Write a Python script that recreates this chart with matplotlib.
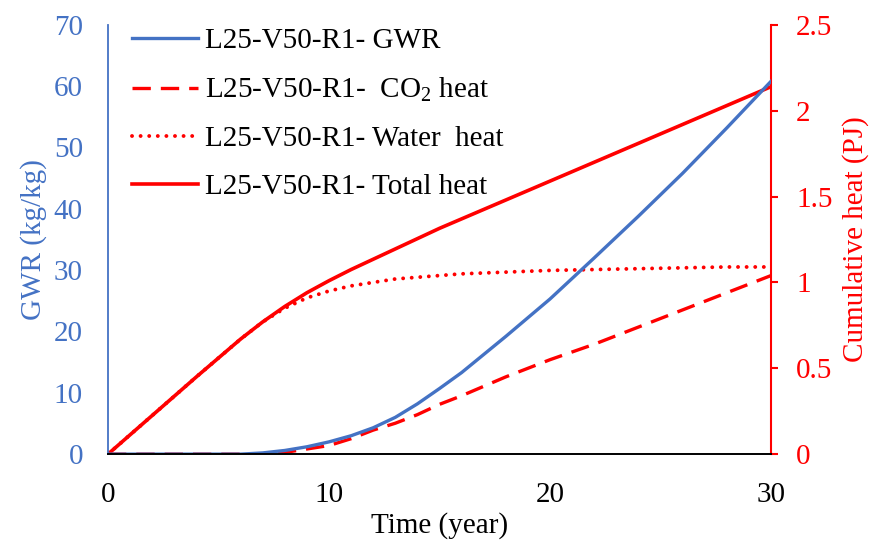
import matplotlib
matplotlib.use("Agg")
import matplotlib.pyplot as plt
from matplotlib.ticker import FuncFormatter

plt.rcParams['font.family'] = ['Liberation Serif', 'DejaVu Serif']
plt.rcParams['mathtext.fontset'] = 'custom'
plt.rcParams['mathtext.rm'] = 'Liberation Serif'
plt.rcParams['mathtext.it'] = 'Liberation Serif:italic'

years = [0, 2, 4, 6, 7, 8, 9, 10, 11, 12, 13, 14, 15, 16, 18, 20, 22, 24, 26, 28, 30]
gwr = [0, 0, 0, 0, 0.2, 0.6, 1.2, 2.0, 3.0, 4.3, 6.0, 8.2, 10.7, 13.3, 19.2, 25.3, 32.0, 38.8, 45.8, 53.2, 60.8]
co2_heat = [0, 0, 0, 0, 0, 0.01, 0.03, 0.05, 0.09, 0.14, 0.18, 0.23, 0.29, 0.34, 0.45, 0.55, 0.64, 0.74, 0.84, 0.94, 1.04]
water_heat = [0, 0.225, 0.45, 0.67, 0.77, 0.85, 0.91, 0.95, 0.98, 1.00, 1.02, 1.03, 1.04, 1.05, 1.06, 1.07, 1.075, 1.08, 1.085, 1.09, 1.09]
total_heat = [0, 0.225, 0.45, 0.67, 0.77, 0.86, 0.94, 1.01, 1.075, 1.135, 1.195, 1.255, 1.315, 1.37, 1.48, 1.59, 1.70, 1.81, 1.92, 2.03, 2.14]

labels = ['L25-V50-R1- GWR', r'L25-V50-R1-  CO$_2$ heat', 'L25-V50-R1- Water  heat', 'L25-V50-R1- Total heat']

BLUE = '#4472C4'
RED = '#FF0000'
FS = 21

fig = plt.figure(figsize=(8.8, 5.4), dpi=100)
ax1 = fig.add_axes([0.1227, 0.159, 0.7535, 0.795])
ax2 = ax1.twinx()

l1, = ax1.plot(years, gwr, color=BLUE, lw=2.4, label=labels[0])
l2, = ax2.plot(years, co2_heat, color=RED, lw=2.4, linestyle=(0, (5.5, 3.0)), label=labels[1])
l3, = ax2.plot(years, water_heat, color=RED, lw=2.8, linestyle=(0, (0.01, 2.2)),
               dash_capstyle='round', label=labels[2])
l4, = ax2.plot(years, total_heat, color=RED, lw=2.6, label=labels[3])

ax1.set_xlim(0, 30)
ax1.set_ylim(0, 70)
ax2.set_ylim(0, 2.5)
ax1.set_xticks([0, 10, 20, 30])
ax1.set_yticks(range(0, 71, 10))
ax2.set_yticks([0, 0.5, 1, 1.5, 2, 2.5])
ax2.yaxis.set_major_formatter(FuncFormatter(lambda v, p: f'{v:g}'))

for ax in (ax1, ax2):
    ax.spines['top'].set_visible(False)
ax1.spines['right'].set_visible(False)
ax2.spines['left'].set_visible(False)
ax2.spines['bottom'].set_visible(False)
ax1.spines['left'].set_color(BLUE)
ax1.spines['left'].set_linewidth(1.3)
ax1.spines['bottom'].set_color('#000000')
ax1.spines['bottom'].set_linewidth(1.4)
ax2.spines['right'].set_color(RED)
ax2.spines['right'].set_linewidth(1.5)

ax1.tick_params(axis='y', length=0, labelsize=FS, labelcolor=BLUE, pad=18)
ax1.tick_params(axis='x', length=0, labelsize=FS, labelcolor='black', pad=20)
ax2.tick_params(axis='y', length=5, width=1.5, color=RED, labelsize=FS, labelcolor=RED, pad=13)

ax1.set_xlabel('Time (year)', fontsize=FS, labelpad=3)
ax1.set_ylabel('GWR (kg/kg)', fontsize=FS, color=BLUE, labelpad=5)
ax2.set_ylabel('Cumulative heat (PJ)', fontsize=FS, color=RED, labelpad=7)

leg = ax1.legend(handles=[l1, l2, l3, l4], loc='upper left', bbox_to_anchor=(0.018, 1.02),
                 frameon=False, fontsize=FS, handlelength=2.27, handletextpad=0.25,
                 labelspacing=0.74, borderaxespad=0)
ax1.set_zorder(2)
ax1.patch.set_visible(False)
ax2.set_zorder(1)

fig.savefig('out.png', dpi=100)
